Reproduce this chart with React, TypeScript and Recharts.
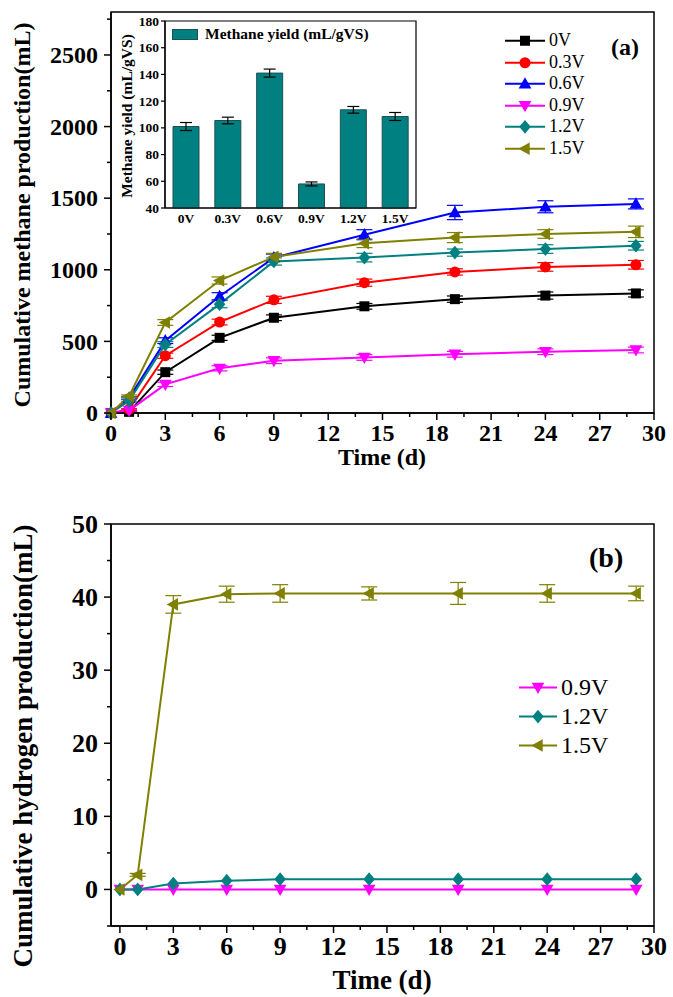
import React from 'react';
import {
  LineChart,
  Line,
  XAxis,
  YAxis,
  ErrorBar,
  ReferenceArea,
  Legend,
  BarChart,
  Bar,
} from 'recharts';

const FONT = '"Liberation Serif", "Times New Roman", Times, serif';

// sampling days
const days = [0, 1, 3, 6, 9, 14, 19, 24, 29];

// cumulative methane production (mL)
const methane0V = [0, 8, 285, 525, 665, 745, 795, 820, 835];
const methane03V = [0, 25, 400, 635, 790, 910, 985, 1020, 1035];
const methane06V = [0, 105, 505, 815, 1085, 1245, 1400, 1440, 1460];
const methane09V = [0, 18, 200, 312, 365, 388, 410, 428, 440];
const methane12V = [0, 85, 478, 760, 1058, 1085, 1120, 1145, 1168];
const methane15V = [0, 118, 632, 925, 1090, 1185, 1225, 1250, 1265];

const methaneErr0V = [0, 5, 15, 18, 20, 20, 22, 25, 25];
const methaneErr03V = [0, 5, 18, 20, 25, 25, 22, 30, 30];
const methaneErr06V = [0, 8, 20, 25, 25, 35, 50, 42, 35];
const methaneErr09V = [0, 5, 15, 18, 20, 20, 20, 20, 20];
const methaneErr12V = [0, 8, 20, 25, 25, 30, 25, 30, 30];
const methaneErr15V = [0, 8, 20, 25, 25, 30, 35, 30, 40];

// cumulative hydrogen production (mL)
const hydrogen09V = [0, 0, 0, 0, 0, 0, 0, 0, 0];
const hydrogen12V = [0, 0, 0.8, 1.2, 1.4, 1.4, 1.4, 1.4, 1.4];
const hydrogen15V = [0, 2, 39, 40.4, 40.5, 40.5, 40.5, 40.5, 40.5];
const hydrogenErr15V = [0, 0.2, 1.2, 1.1, 1.2, 0.9, 1.5, 1.2, 1.0];

// methane yield per reactor (mL/gVS)
const reactors = ['0V', '0.3V', '0.6V', '0.9V', '1.2V', '1.5V'];
const methaneYield = [101, 105.5, 141, 58, 113.5, 108.5];
const methaneYieldErr = [3, 2.5, 3, 1.5, 2.5, 3];

// axis ticks (majors get labels, the rest are minor ticks)
const dayTicks = [0, 1.5, 3, 4.5, 6, 7.5, 9, 10.5, 12, 13.5, 15, 16.5, 18, 19.5, 21, 22.5, 24, 25.5, 27, 28.5, 30];
const methaneTicks = [0, 250, 500, 750, 1000, 1250, 1500, 1750, 2000, 2250, 2500, 2750];
const hydrogenTicks = [-5, 0, 5, 10, 15, 20, 25, 30, 35, 40, 45, 50];
const yieldTicks = [40, 60, 80, 100, 120, 140, 160, 180];

type Shape = 'square' | 'circle' | 'up' | 'down' | 'diamond' | 'left';

interface Series {
  key: string;
  label: string;
  color: string;
  shape: Shape;
  values: number[];
  err?: number[];
}

const methaneSeries: Series[] = [
  { key: 'v00', label: '0V', color: '#000000', shape: 'square', values: methane0V, err: methaneErr0V },
  { key: 'v03', label: '0.3V', color: '#ff0000', shape: 'circle', values: methane03V, err: methaneErr03V },
  { key: 'v06', label: '0.6V', color: '#0000ff', shape: 'up', values: methane06V, err: methaneErr06V },
  { key: 'v09', label: '0.9V', color: '#ff00ff', shape: 'down', values: methane09V, err: methaneErr09V },
  { key: 'v12', label: '1.2V', color: '#008080', shape: 'diamond', values: methane12V, err: methaneErr12V },
  { key: 'v15', label: '1.5V', color: '#808000', shape: 'left', values: methane15V, err: methaneErr15V },
];

const hydrogenSeries: Series[] = [
  { key: 'v09', label: '0.9V', color: '#ff00ff', shape: 'down', values: hydrogen09V },
  { key: 'v12', label: '1.2V', color: '#008080', shape: 'diamond', values: hydrogen12V },
  { key: 'v15', label: '1.5V', color: '#808000', shape: 'left', values: hydrogen15V, err: hydrogenErr15V },
];

const buildRows = (series: Series[]) =>
  days.map((day, i) => {
    const row: Record<string, number> = { day };
    series.forEach((s) => {
      row[s.key] = s.values[i];
      if (s.err) row[s.key + 'Err'] = s.err[i];
    });
    return row;
  });

const methaneRows = buildRows(methaneSeries);
const hydrogenRows = buildRows(hydrogenSeries);
const yieldRows = reactors.map((reactor, i) => ({
  reactor,
  yield: methaneYield[i],
  err: methaneYieldErr[i],
}));

function Marker({ cx, cy, shape, color, r = 5.5 }: { cx: number; cy: number; shape: Shape; color: string; r?: number }) {
  if (cx == null || cy == null) return null;
  switch (shape) {
    case 'square':
      return <rect x={cx - r + 0.5} y={cy - r + 0.5} width={2 * r - 1} height={2 * r - 1} fill={color} />;
    case 'circle':
      return <circle cx={cx} cy={cy} r={r} fill={color} />;
    case 'up':
      return <polygon points={`${cx},${cy - 1.2 * r} ${cx - 1.15 * r},${cy + 0.85 * r} ${cx + 1.15 * r},${cy + 0.85 * r}`} fill={color} />;
    case 'down':
      return <polygon points={`${cx},${cy + 1.2 * r} ${cx - 1.15 * r},${cy - 0.85 * r} ${cx + 1.15 * r},${cy - 0.85 * r}`} fill={color} />;
    case 'diamond':
      return <polygon points={`${cx},${cy - 1.25 * r} ${cx + 1.05 * r},${cy} ${cx},${cy + 1.25 * r} ${cx - 1.05 * r},${cy}`} fill={color} />;
    case 'left':
    default:
      return <polygon points={`${cx - 1.2 * r},${cy} ${cx + 0.85 * r},${cy - 1.15 * r} ${cx + 0.85 * r},${cy + 1.15 * r}`} fill={color} />;
  }
}

const isMultiple = (v: number, step: number) => Math.abs(v / step - Math.round(v / step)) < 1e-6;

// bottom axis: long labelled majors, short minors, all pointing outward
const bottomTick = (step: number, fontSize: number, dy: number) => (p: any) => {
  const v = p.payload.value;
  const major = isMultiple(v, step);
  return (
    <g>
      <line x1={p.x} x2={p.x} y1={p.y} y2={p.y + (major ? 7 : 4)} stroke="#000" strokeWidth={1.5} />
      {major && (
        <text x={p.x} y={p.y + dy} textAnchor="middle" fontFamily={FONT} fontWeight="bold" fontSize={fontSize}>
          {v}
        </text>
      )}
    </g>
  );
};

const leftTick = (step: number, fontSize: number) => (p: any) => {
  const v = p.payload.value;
  const major = isMultiple(v, step);
  return (
    <g>
      <line x1={p.x} x2={p.x - (major ? 7 : 4)} y1={p.y} y2={p.y} stroke="#000" strokeWidth={1.5} />
      {major && (
        <text x={p.x - 13} y={p.y} dy="0.34em" textAnchor="end" fontFamily={FONT} fontWeight="bold" fontSize={fontSize}>
          {v}
        </text>
      )}
    </g>
  );
};

const topTick = (step: number) => (p: any) => {
  const major = isMultiple(p.payload.value, step);
  return <line x1={p.x} x2={p.x} y1={p.y} y2={p.y - (major ? 4 : 2)} stroke="#000" strokeWidth={1.2} />;
};

const rightTick = (step: number) => (p: any) => {
  const major = isMultiple(p.payload.value, step);
  return <line x1={p.x} x2={p.x + (major ? 4 : 2)} y1={p.y} y2={p.y} stroke="#000" strokeWidth={1.2} />;
};

const legendContent = (series: Series[], fontSize: number, rowHeight: number, lineLen: number) => () => (
  <div style={{ fontFamily: FONT, fontSize, color: '#000' }}>
    {series.map((s) => (
      <div key={s.key} style={{ display: 'flex', alignItems: 'center', height: rowHeight, lineHeight: `${rowHeight}px` }}>
        <svg width={lineLen} height={rowHeight} style={{ display: 'block' }}>
          <line x1={0} x2={lineLen} y1={rowHeight / 2} y2={rowHeight / 2} stroke={s.color} strokeWidth={2} />
          <Marker cx={lineLen / 2} cy={rowHeight / 2} shape={s.shape} color={s.color} />
        </svg>
        <span style={{ marginLeft: 4 }}>{s.label}</span>
      </div>
    ))}
  </div>
);

const renderLines = (series: Series[]) =>
  series.map((s) => (
    <Line
      key={s.key}
      type="linear"
      dataKey={s.key}
      name={s.label}
      stroke={s.color}
      strokeWidth={2}
      isAnimationActive={false}
      activeDot={false}
      dot={(p: any) => <Marker key={`${s.key}-${p.index}`} cx={p.cx} cy={p.cy} shape={s.shape} color={s.color} />}
    >
      {s.err && (
        <ErrorBar dataKey={s.key + 'Err'} direction="y" width={8} stroke={s.color} strokeWidth={1.2} isAnimationActive={false} />
      )}
    </Line>
  ));

const titleStyle = (fontSize: number) => ({ fontFamily: FONT, fontWeight: 'bold' as const, fontSize, fill: '#000' });

function MethaneChart() {
  return (
    <LineChart width={673} height={480} data={methaneRows} margin={{ top: 12, right: 19, bottom: 17, left: 51 }}>
      <XAxis
        dataKey="day"
        type="number"
        domain={[0, 30]}
        ticks={dayTicks}
        interval={0}
        height={50}
        tickSize={0}
        tickMargin={0}
        tickLine={false}
        axisLine={{ stroke: '#000', strokeWidth: 1.5 }}
        tick={bottomTick(3, 24, 28)}
        label={() => (
          <text x={382} y={465} textAnchor="middle" {...titleStyle(24)}>
            Time (d)
          </text>
        )}
      />
      <XAxis xAxisId="top" orientation="top" type="number" domain={[0, 30]} ticks={dayTicks} interval={0} height={0} tickSize={0} tickLine={false} axisLine={false} tick={topTick(3)} />
      <YAxis
        type="number"
        domain={[0, 2800]}
        ticks={methaneTicks}
        interval={0}
        width={60}
        tickSize={0}
        tickMargin={0}
        tickLine={false}
        axisLine={{ stroke: '#000', strokeWidth: 1.5 }}
        tick={leftTick(500, 24)}
        label={() => (
          <text transform="translate(30,215) rotate(-90)" textAnchor="middle" {...titleStyle(24)}>
            Cumulative methane production(mL)
          </text>
        )}
      />
      <YAxis yAxisId="right" orientation="right" type="number" domain={[0, 2800]} ticks={methaneTicks} interval={0} width={0} tickSize={0} tickLine={false} axisLine={false} tick={rightTick(500)} />
      <ReferenceArea x1={0} x2={30} y1={0} y2={2800} fill="none" stroke="#000" strokeWidth={1.5} />
      {renderLines(methaneSeries)}
      <Legend
        layout="horizontal"
        verticalAlign="middle"
        align="center"
        content={legendContent(methaneSeries, 18, 21.5, 40)}
        wrapperStyle={{ left: 505, top: 30, width: 100 }}
      />
    </LineChart>
  );
}

function YieldInset() {
  return (
    <BarChart width={330} height={240} data={yieldRows} margin={{ top: 21, right: 14, bottom: 7, left: 20 }} barSize={26}>
      <XAxis
        dataKey="reactor"
        height={25}
        tickSize={0}
        tickMargin={0}
        tickLine={false}
        axisLine={{ stroke: '#000', strokeWidth: 1.2 }}
        tick={(p: any) => (
          <text x={p.x} y={p.y + 15} textAnchor="middle" fontFamily={FONT} fontWeight="bold" fontSize={13.5}>
            {p.payload.value}
          </text>
        )}
      />
      <YAxis
        type="number"
        domain={[40, 180]}
        ticks={yieldTicks}
        interval={0}
        width={45}
        tickSize={0}
        tickMargin={0}
        tickLine={false}
        axisLine={{ stroke: '#000', strokeWidth: 1.2 }}
        tick={(p: any) => (
          <g>
            <line x1={p.x} x2={p.x - 4} y1={p.y} y2={p.y} stroke="#000" strokeWidth={1.2} />
            <text x={p.x - 6} y={p.y} dy="0.34em" textAnchor="end" fontFamily={FONT} fontWeight="bold" fontSize={13.5}>
              {p.payload.value}
            </text>
          </g>
        )}
        label={() => (
          <text transform="translate(32,116) rotate(-90)" textAnchor="middle" fontFamily={FONT} fontWeight="bold" fontSize={15.5}>
            Methane yield (mL/gVS)
          </text>
        )}
      />
      <ReferenceArea y1={40} y2={180} fill="none" stroke="#000" strokeWidth={1.2} />
      <Bar dataKey="yield" name="Methane yield (mL/gVS)" fill="#008080" stroke="#1f4f4f" strokeWidth={1} isAnimationActive={false}>
        <ErrorBar dataKey="err" direction="y" width={6} stroke="#000" strokeWidth={1.2} isAnimationActive={false} />
      </Bar>
      <Legend
        layout="horizontal"
        verticalAlign="middle"
        align="center"
        wrapperStyle={{ left: 72, top: 26, width: 230 }}
        content={() => (
          <div style={{ display: 'flex', alignItems: 'center', fontFamily: FONT, fontWeight: 'bold', fontSize: 15.5, lineHeight: '16px' }}>
            <span style={{ display: 'inline-block', width: 24, height: 9, background: '#008080', border: '1px solid #1f4f4f' }} />
            <span style={{ marginLeft: 7 }}>Methane yield (mL/gVS)</span>
          </div>
        )}
      />
    </BarChart>
  );
}

function HydrogenChart() {
  return (
    <LineChart width={673} height={517} data={hydrogenRows} margin={{ top: 44, right: 19, bottom: 21, left: 51 }}>
      <XAxis
        dataKey="day"
        type="number"
        domain={[-0.5, 30]}
        ticks={dayTicks}
        interval={0}
        height={50}
        tickSize={0}
        tickMargin={0}
        tickLine={false}
        axisLine={{ stroke: '#000', strokeWidth: 1.5 }}
        tick={bottomTick(3, 26, 29)}
        label={() => (
          <text x={382} y={509} textAnchor="middle" {...titleStyle(27)}>
            Time (d)
          </text>
        )}
      />
      <XAxis xAxisId="top" orientation="top" type="number" domain={[-0.5, 30]} ticks={dayTicks} interval={0} height={0} tickSize={0} tickLine={false} axisLine={false} tick={topTick(3)} />
      <YAxis
        type="number"
        domain={[-5, 50]}
        ticks={hydrogenTicks}
        interval={0}
        width={60}
        tickSize={0}
        tickMargin={0}
        tickLine={false}
        axisLine={{ stroke: '#000', strokeWidth: 1.5 }}
        tick={leftTick(10, 26)}
        label={() => (
          <text transform="translate(32,266) rotate(-90)" textAnchor="middle" {...titleStyle(27)}>
            Cumulative hydrogen production(mL)
          </text>
        )}
      />
      <YAxis yAxisId="right" orientation="right" type="number" domain={[-5, 50]} ticks={hydrogenTicks} interval={0} width={0} tickSize={0} tickLine={false} axisLine={false} tick={rightTick(10)} />
      <ReferenceArea x1={-0.5} x2={30} y1={-5} y2={50} fill="none" stroke="#000" strokeWidth={1.5} />
      {renderLines(hydrogenSeries)}
      <Legend
        layout="horizontal"
        verticalAlign="middle"
        align="center"
        content={legendContent(hydrogenSeries, 24, 29, 38)}
        wrapperStyle={{ left: 519, top: 193, width: 120 }}
      />
    </LineChart>
  );
}

export default function App() {
  return (
    <div style={{ position: 'absolute', left: 0, top: 0, width: 673, height: 997, background: '#fff', overflow: 'hidden' }}>
      <div style={{ position: 'absolute', left: 0, top: 0 }}>
        <MethaneChart />
      </div>
      <div style={{ position: 'absolute', left: 100, top: 0 }}>
        <YieldInset />
      </div>
      <div style={{ position: 'absolute', left: 0, top: 480 }}>
        <HydrogenChart />
      </div>
      <span style={{ position: 'absolute', left: 611, top: 34, fontFamily: FONT, fontWeight: 'bold', fontSize: 24 }}>(a)</span>
      <span style={{ position: 'absolute', left: 589, top: 542, fontFamily: FONT, fontWeight: 'bold', fontSize: 28 }}>(b)</span>
    </div>
  );
}
